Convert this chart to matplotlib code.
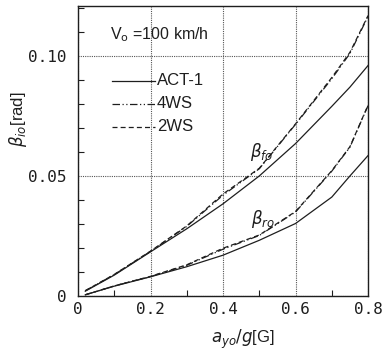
import matplotlib
matplotlib.use("Agg")
import matplotlib.pyplot as plt
from matplotlib.ticker import MultipleLocator

# lateral acceleration a_yo/g [G]
ay = [0.02, 0.1, 0.2, 0.3, 0.4, 0.5, 0.6, 0.7, 0.75, 0.8]

# front side-slip beta_fo [rad]
bf_act1 = [0.0020, 0.0087, 0.0184, 0.0280, 0.0384, 0.0500, 0.0635, 0.0790, 0.0870, 0.0960]
bf_4ws  = [0.0022, 0.0089, 0.0186, 0.0290, 0.0420, 0.0530, 0.0715, 0.0905, 0.1010, 0.1165]
bf_2ws  = [0.0022, 0.0090, 0.0187, 0.0292, 0.0425, 0.0532, 0.0717, 0.0910, 0.1015, 0.1168]

# rear side-slip beta_ro [rad]
br_act1 = [0.0005, 0.0041, 0.0080, 0.0122, 0.0170, 0.0232, 0.0302, 0.0412, 0.0500, 0.0585]
br_4ws  = [0.0005, 0.0042, 0.0081, 0.0128, 0.0195, 0.0252, 0.0350, 0.0520, 0.0620, 0.0793]
br_2ws  = [0.0005, 0.0042, 0.0082, 0.0130, 0.0199, 0.0254, 0.0352, 0.0522, 0.0622, 0.0795]

x_ticks = [0, 0.2, 0.4, 0.6, 0.8]
x_ticklabels = ["0", "0.2", "0.4", "0.6", "0.8"]
y_ticks = [0, 0.05, 0.10]
y_ticklabels = ["0", "0.05", "0.10"]

ink = "#1e1e1e"
mono = "DejaVu Sans Mono"
sans = "Liberation Sans"

fig = plt.figure(figsize=(3.83, 3.51), dpi=100)
ax = fig.add_axes([0.2037, 0.1567, 0.7573, 0.8263])

lw = 0.9
dashdot = (0, (6, 2, 1, 2, 1, 2))
dashed = (0, (4, 2.5))
ax.plot(ay, bf_act1, color=ink, lw=lw, ls="-")
ax.plot(ay, bf_4ws, color=ink, lw=lw, ls=dashdot)
ax.plot(ay, bf_2ws, color=ink, lw=lw, ls=dashed)
ax.plot(ay, br_act1, color=ink, lw=lw, ls="-")
ax.plot(ay, br_4ws, color=ink, lw=lw, ls=dashdot)
ax.plot(ay, br_2ws, color=ink, lw=lw, ls=dashed)

ax.set_xlim(0, 0.8)
ax.set_ylim(0, 0.1208)

ax.set_xticks(x_ticks)
ax.set_xticklabels(x_ticklabels, family=mono, fontsize=11.5, color=ink)
ax.set_yticks(y_ticks)
ax.set_yticklabels(y_ticklabels, family=mono, fontsize=11.5, color=ink)
ax.xaxis.set_minor_locator(MultipleLocator(0.1))
ax.yaxis.set_minor_locator(MultipleLocator(0.01))
ax.tick_params(which="both", direction="in", color=ink, width=0.8)
ax.tick_params(which="major", length=0)
ax.tick_params(which="minor", length=4)
ax.tick_params(axis="x", which="major", pad=4)
ax.tick_params(axis="y", which="major", pad=8)

ax.grid(True, which="major", ls=(0, (1, 1)), lw=0.8, color="#555555")
for s in ax.spines.values():
    s.set_color(ink)
    s.set_linewidth(1.0)

ax.set_ylabel(r"$\beta_{io}$[rad]", fontsize=12, color=ink, family=sans)
ax.yaxis.set_label_coords(-0.17, 0.61)
ax.set_xlabel(r"$\mathit{a}_{yo}/g$[G]", fontsize=12, color=ink, family=sans)
ax.xaxis.set_label_coords(0.57, -0.11)

ax.text(0.088, 0.109, r"V$_\mathrm{o}$ =100 km/h", fontsize=11.5, family=sans,
        color=ink, va="center", ha="left")

legend_rows = [("ACT-1", "-", 0.0896),
               ("4WS", dashdot, 0.0800),
               ("2WS", dashed, 0.0705)]
for name, style, yy in legend_rows:
    ax.plot([0.093, 0.213], [yy, yy], color=ink, lw=lw, ls=style)
    ax.text(0.217, yy, name, fontsize=12, family=sans, color=ink,
            va="center", ha="left")

ax.text(0.474, 0.0598, r"$\beta_{fo}$", fontsize=12, color=ink, va="center", ha="left")
ax.text(0.476, 0.0320, r"$\beta_{ro}$", fontsize=12, color=ink, va="center", ha="left")

fig.savefig("out.png", dpi=100)
